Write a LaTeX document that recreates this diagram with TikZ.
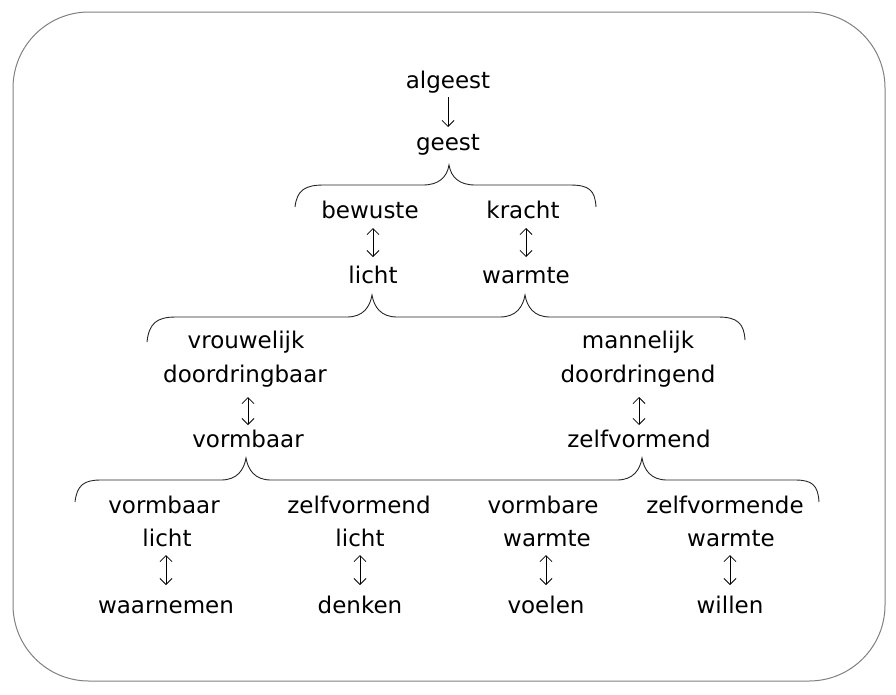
\documentclass[tikz,border=0pt]{standalone}
\usepackage{fontspec}
\setmainfont{DejaVu Sans}
\usetikzlibrary{arrows.meta}
\begin{document}
\begin{tikzpicture}[x=1pt,y=-1pt,
  lbl/.style={anchor=base,inner sep=0pt,outer sep=0pt,font=\fontsize{23}{27}\selectfont,text height=17pt,text depth=5pt},
  arr/.style={line width=0.8pt,-{Straight Barb[length=6pt,width=12pt]}},
  biarr/.style={line width=0.8pt,{Straight Barb[length=6pt,width=12pt]}-{Straight Barb[length=6pt,width=12pt]}},
  bracel/.style={line width=0.9pt,draw=black!85},
  frame/.style={draw=black!50,line width=1pt,rounded corners=76pt}]
\useasboundingbox (0,0) rectangle (896,694);
\draw[frame] (13,12) rectangle (885,681);

% texts
\node[lbl] (alg) at (448,88) {algeest};
\node[lbl] (gee) at (448,150) {geest};
\node[lbl] (bew) at (370,218) {bewuste};
\node[lbl] (kra) at (523,218) {kracht};
\node[lbl] (lic) at (373,283) {licht};
\node[lbl] (war) at (526,283) {warmte};
\node[lbl] (vro) at (246,348) {vrouwelijk};
\node[lbl] (ddb) at (245,382) {doordringbaar};
\node[lbl] (vba) at (248,447) {vormbaar};
\node[lbl] (man) at (638,348) {mannelijk};
\node[lbl] (dde) at (638,382) {doordringend};
\node[lbl] (zvo) at (639,447) {zelfvormend};
\node[lbl] (b1a) at (164,513) {vormbaar};
\node[lbl] (b1b) at (167,546) {licht};
\node[lbl] (b1c) at (166,613) {waarnemen};
\node[lbl] (b2a) at (359,513) {zelfvormend};
\node[lbl] (b2b) at (360,546) {licht};
\node[lbl] (b2c) at (360,613) {denken};
\node[lbl] (b3a) at (543,513) {vormbare};
\node[lbl] (b3b) at (547,546) {warmte};
\node[lbl] (b3c) at (546,613) {voelen};
\node[lbl] (b4a) at (725,513) {zelfvormende};
\node[lbl] (b4b) at (731,546) {warmte};
\node[lbl] (b4c) at (730,613) {willen};

% arrows
\draw[arr,shorten <=4pt,shorten >=6pt] (alg.south -| gee.north) -- (gee.north);
\draw[biarr,shorten <=5pt,shorten >=9pt] (bew.south -| lic.north) -- (lic.north);
\draw[biarr,shorten <=5pt,shorten >=9pt] (kra.south -| war.north) -- (war.north);
\draw[biarr,shorten <=10pt,shorten >=5pt] (ddb.south -| vba.north) -- (vba.north);
\draw[biarr,shorten <=10pt,shorten >=5pt] (dde.south -| zvo.north) -- (zvo.north);
\draw[biarr,shorten <=4pt,shorten >=11pt] (b1b.south -| b1c.north) -- (b1c.north);
\draw[biarr,shorten <=4pt,shorten >=11pt] (b2b.south -| b2c.north) -- (b2c.north);
\draw[biarr,shorten <=4pt,shorten >=11pt] (b3b.south -| b3c.north) -- (b3c.north);
\draw[biarr,shorten <=4pt,shorten >=11pt] (b4b.south -| b4c.north) -- (b4c.north);

% braces
\draw[bracel] (295,207) .. controls (297,190) and (305,185) .. (324,185) -- (423,185)
  .. controls (439,185) and (447,177) .. (449,165) .. controls (451,177) and (459,185) .. (475,185)
  -- (570,185) .. controls (589,185) and (595,190) .. (596,207);
\draw[bracel] (147,342) .. controls (149,323) and (157,317) .. (176,317) -- (347,317)
  .. controls (363,317) and (370,307) .. (372,295) .. controls (374,307) and (381,317) .. (397,317)
  -- (500,317) .. controls (516,317) and (523,307) .. (525,295) .. controls (527,307) and (534,317) .. (550,317)
  -- (718,317) .. controls (737,317) and (744,323) .. (745,340);
\draw[bracel] (75,502) .. controls (77,485) and (84,480) .. (101,480) -- (221,480)
  .. controls (237,480) and (244,470) .. (246,458) .. controls (248,470) and (255,480) .. (271,480)
  -- (617,480) .. controls (633,480) and (640,470) .. (642,458) .. controls (644,470) and (651,480) .. (667,480)
  -- (795,480) .. controls (812,480) and (818,485) .. (819,502);
\end{tikzpicture}
\end{document}
